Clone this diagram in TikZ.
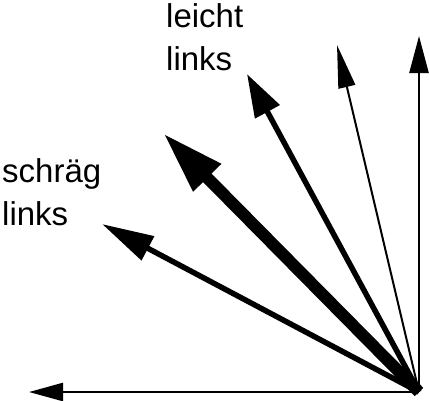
\documentclass[tikz,border=0pt]{standalone}
\usepackage{fontspec}
\setmainfont{Liberation Sans}
\usetikzlibrary{arrows.meta}
\begin{document}
\begin{tikzpicture}[x=1pt,y=-1pt,
  vec/.style={draw=black,line cap=butt},
  lbl/.style={anchor=north west,inner sep=0pt,align=left,
    font=\fontsize{33}{43}\selectfont}]
\useasboundingbox (0,0) rectangle (430,400);
% common origin of all vectors
\coordinate (O) at (419,392);
\coordinate (L) at (29,392);
\coordinate (U) at (419,36);
\coordinate (A) at (337,45);
\coordinate (B) at (247,74);
\coordinate (C) at (163,133);
\coordinate (D) at (102,224);
% vectors
\draw[vec,line width=2.5pt,-{Triangle[length=34pt,width=18pt]}] (O) -- (L);
\draw[vec,line width=2.5pt,-{Triangle[length=37pt,width=19pt]}] (O) -- (U);
\draw[vec,line width=2pt,-{Triangle[length=43pt,width=17pt]}] (O) -- (A);
\draw[vec,line width=5.5pt,-{Triangle[length=43pt,width=27pt]}] (O) -- (B);
\draw[vec,line width=12pt,-{Triangle[length=63pt,width=36pt]}] (O) -- (C);
\draw[vec,line width=5.5pt,-{Triangle[length=52pt,width=26pt]}] (O) -- (D);
% labels
\node[lbl] (t1) at (166,3) {leicht\\links};
\node[lbl] (t2) at (2,158) {schräg\\links};
\end{tikzpicture}
\end{document}
